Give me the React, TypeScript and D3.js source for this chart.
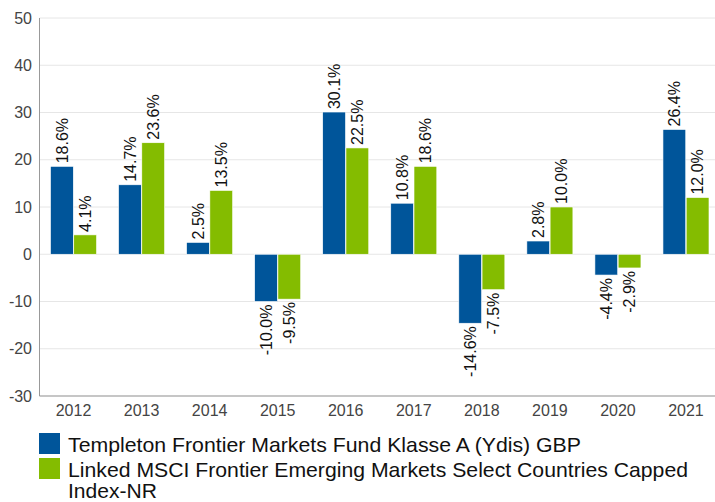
import React from "react";
import * as d3 from "d3";

const years = ["2012", "2013", "2014", "2015", "2016", "2017", "2018", "2019", "2020", "2021"];
const fund = [18.6, 14.7, 2.5, -10.0, 30.1, 10.8, -14.6, 2.8, -4.4, 26.4];
const index = [4.1, 23.6, 13.5, -9.5, 22.5, 18.6, -7.5, 10.0, -2.9, 12.0];
const yTicks = [50, 40, 30, 20, 10, 0, -10, -20, -30];
const seriesNames = [
  "Templeton Frontier Markets Fund Klasse A (Ydis) GBP",
  "Linked MSCI Frontier Emerging Markets Select Countries Capped",
  "Index-NR",
];
const colors = ["#00559A", "#84BC00"];

export default function App() {
  const W = 715, H = 502;
  const left = 39.5, right = 720, top = 18, bottom = 396;
  const y = d3.scaleLinear().domain([-30, 50]).range([bottom, top]);
  const x0 = d3.scaleBand().domain(years).range([left, right]).paddingInner(0.31).paddingOuter(0.155);
  const x1 = d3.scaleBand().domain(["fund", "index"]).range([0, x0.bandwidth()]).padding(0.02);
  const font = "'Liberation Sans', Arial, sans-serif";
  const series = [fund, index];
  const keys = ["fund", "index"];

  return (
    <svg width={W} height={H} style={{ position: "absolute", left: 0, top: 0, fontFamily: font }}>
      <rect width={W} height={H} fill="#fff" />
      {yTicks.map((t) => (
        <g key={t}>
          <line x1={left} x2={W} y1={y(t)} y2={y(t)} stroke="#e6e6e6" strokeWidth={1} />
          <text x={32} y={y(t)} dy="0.35em" textAnchor="end" fontSize={16} fill="#444">{t}</text>
        </g>
      ))}
      {years.map((yr, i) => (
        <g key={yr}>
          {series.map((s, k) => {
            const v = s[i];
            const bx = (x0(yr) as number) + (x1(keys[k]) as number);
            const bw = x1.bandwidth();
            const y0 = y(Math.max(0, v));
            const h = Math.abs(y(v) - y(0));
            const cx = bx + bw / 2;
            const label = v.toFixed(1) + "%";
            const ly = v >= 0 ? y(v) - 3 : y(v) + 3;
            return (
              <g key={k}>
                <rect x={bx} y={y0} width={bw} height={h} fill={colors[k]} stroke="#ffffff" strokeWidth={0.6} />
                <text
                  transform={`translate(${cx},${ly}) rotate(-90)`}
                  textAnchor={v >= 0 ? "start" : "end"}
                  dy="0.35em"
                  fontSize={16}
                  fill="#111"
                >
                  {label}
                </text>
              </g>
            );
          })}
          <text x={(x0(yr) as number) + x0.bandwidth() / 2} y={416} textAnchor="middle" fontSize={16} fill="#444">{yr}</text>
        </g>
      ))}
      <line x1={left} x2={left} y1={top} y2={bottom} stroke="#999" />
      <line x1={left} x2={W} y1={bottom} y2={bottom} stroke="#999" />
      <rect x={39} y={433} width={21} height={21} fill={colors[0]} />
      <rect x={39} y={458} width={21} height={21} fill={colors[1]} />
      <text x={68} y={452} fontSize={21} fill="#111" textLength={513} lengthAdjust="spacingAndGlyphs">{seriesNames[0]}</text>
      <text x={68} y={477} fontSize={21} fill="#111" textLength={620} lengthAdjust="spacingAndGlyphs">{seriesNames[1]}</text>
      <text x={68} y={498} fontSize={21} fill="#111" textLength={89} lengthAdjust="spacingAndGlyphs">{seriesNames[2]}</text>
    </svg>
  );
}
